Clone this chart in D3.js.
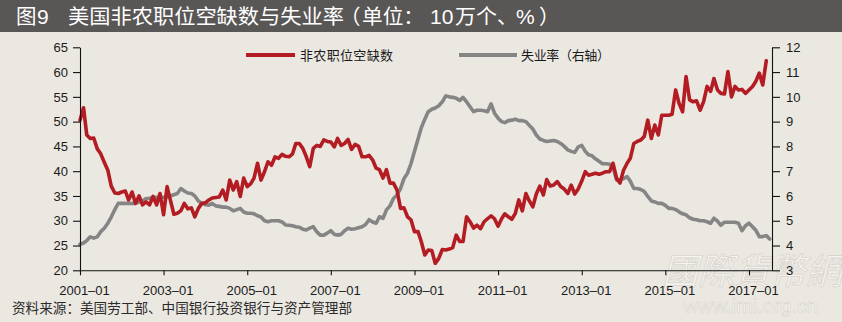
<!DOCTYPE html>
<html><head><meta charset="utf-8">
<script src="https://cdn.jsdelivr.net/npm/d3@7"></script>
<style>
html,body{margin:0;padding:0;background:#EBE8E2;}
svg{display:block;}
</style></head>
<body><svg id="c" width="842" height="322"></svg>
<script>
// ---- data (monthly, starting 2001-01) ----
const startMonth = "2001-01";
const xTickLabels = ["2001–01","2003–01","2005–01","2007–01","2009–01","2011–01","2013–01","2015–01","2017–01"];
const leftTicks = [20,25,30,35,40,45,50,55,60,65];
const rightTicks = [3,4,5,6,7,8,9,10,11,12];
const seriesNames = ["非农职位空缺数","失业率（右轴）"];
// job openings, 100k
const openings = [
50.3,52.8,47.3,46.6,46.7,44.5,43.5,41.8,40.2,37.0,35.6,35.5,
35.8,36.0,34.2,35.8,33.5,35.0,33.2,33.8,33.2,34.9,33.2,35.5,
31.2,36.9,34.2,31.3,31.5,32.0,33.5,32.4,32.6,30.8,32.5,33.5,
33.6,34.2,34.6,34.7,34.8,36.2,34.2,38.2,36.2,37.9,34.9,38.6,
36.9,37.5,38.6,41.6,38.2,39.9,41.9,41.2,42.9,42.6,43.4,43.0,
42.9,43.5,45.6,45.6,44.6,42.9,40.9,44.6,45.2,45.0,46.3,46.0,
45.9,44.9,46.6,45.2,45.6,46.4,44.4,45.4,45.0,42.9,42.9,43.2,
42.3,40.6,40.3,38.6,40.3,37.6,37.6,36.2,32.5,32.6,30.8,30.2,
27.8,27.8,25.8,23.1,24.1,24.0,21.4,22.4,24.2,24.1,24.3,24.6,
27.1,25.8,25.8,30.8,29.8,28.5,29.1,28.4,29.8,30.4,31.0,30.4,
28.9,30.4,31.4,30.8,30.3,31.5,34.2,32.0,35.5,34.0,32.8,35.4,
37.0,35.2,38.3,37.0,37.2,37.9,36.9,36.4,35.5,37.2,35.4,36.4,
38.0,39.9,39.2,39.4,39.6,39.4,39.6,39.9,39.9,41.6,38.6,37.6,
40.2,41.6,42.6,45.6,46.0,46.3,47.0,50.3,46.6,49.3,47.3,51.3,
51.3,51.3,51.5,56.4,53.7,52.0,59.1,54.4,54.0,54.2,52.3,54.0,
57.1,56.1,58.7,56.4,55.7,55.6,60.1,55.0,57.1,56.4,56.5,55.7,
56.4,57.1,58.1,59.8,57.4,62.3];
// unemployment rate, %
const unemployment = [
4.05,4.1,4.2,4.35,4.3,4.35,4.56,4.7,4.9,5.15,5.45,5.7,
5.7,5.7,5.7,5.7,5.7,5.75,5.8,5.9,5.9,5.95,5.95,5.95,
5.95,5.96,6.0,6.05,6.1,6.3,6.2,6.12,6.1,6.0,5.8,5.7,
5.65,5.63,5.7,5.6,5.58,5.55,5.55,5.5,5.4,5.45,5.5,5.35,
5.3,5.3,5.28,5.2,5.15,5.0,4.96,5.0,5.0,5.0,4.95,4.83,
4.82,4.8,4.76,4.74,4.66,4.63,4.7,4.76,4.55,4.42,4.42,4.5,
4.6,4.45,4.42,4.45,4.6,4.7,4.66,4.68,4.72,4.76,4.85,5.04,
4.95,4.9,5.16,5.1,5.44,5.6,5.9,6.04,6.3,6.7,6.92,7.3,
7.8,8.3,8.75,9.1,9.4,9.5,9.55,9.64,9.8,10.04,10.0,9.98,
9.94,9.86,9.98,9.8,9.6,9.4,9.46,9.46,9.44,9.4,9.72,9.34,
9.14,9.0,8.96,9.04,9.06,9.1,9.04,9.04,9.0,8.85,8.7,8.46,
8.3,8.24,8.2,8.22,8.24,8.2,8.12,8.0,7.86,7.8,7.76,7.98,
8.04,7.8,7.66,7.62,7.5,7.4,7.3,7.3,7.28,7.18,6.64,6.64,
6.7,6.78,6.6,6.3,6.3,6.26,6.18,5.98,5.8,5.76,5.7,5.7,
5.62,5.5,5.5,5.45,5.36,5.28,5.24,5.12,5.06,5.04,5.0,5.0,
4.96,4.9,5.1,4.98,4.82,4.94,4.94,4.94,4.94,4.9,4.6,4.8,
4.9,4.76,4.62,4.36,4.36,4.4,4.26];

// ---- drawing ----
const svg = d3.select("#c");
const W = 842, H = 322;
const parse = d3.timeParse("%Y-%m");
const t0 = parse(startMonth);
const dateOf = i => d3.timeMonth.offset(t0, i);

const x = d3.scaleTime().domain([t0, new Date(2017, 6, 21)]).range([80, 772]);
const yL = d3.scaleLinear().domain([20, 65]).range([270.3, 47.3]);
const yR = d3.scaleLinear().domain([3, 12]).range([270.3, 47.3]);

const cjk = "'Noto Sans CJK SC','Noto Sans',sans-serif";
const axisFont = "'Liberation Sans',Arial,Helvetica,sans-serif";

// title bar
svg.append("rect").attr("x",0).attr("y",0).attr("width",W).attr("height",32).attr("fill","#595656");
const title = svg.append("text").attr("y",24)
  .attr("font-family",cjk).attr("font-size",20.5).attr("fill","#ffffff");
[
  {t:"图", x:16},
  {t:"9", x:37, f:axisFont, s:21},
  {t:"美国非农职位空缺数与失业率", x:68, len:276},
  {t:"（", x:340},
  {t:"单位：", x:362, len:62},
  {t:"10", x:430, f:axisFont, s:21},
  {t:"万个", x:455, len:42},
  {t:"、", x:497},
  {t:"%", x:516, f:axisFont, s:21},
  {t:"）", x:539}
].forEach(p=>{
  const ts = title.append("tspan").attr("x",p.x).text(p.t);
  if (p.f) ts.attr("font-family",p.f).attr("font-size",p.s);
  if (p.len) ts.attr("textLength",p.len).attr("lengthAdjust","spacingAndGlyphs");
});

// watermark
svg.append("text").attr("x",752).attr("y",284).attr("text-anchor","middle")
  .attr("font-family","'Noto Sans CJK TC',sans-serif").attr("font-size",36).attr("font-style","italic")
  .attr("fill","#f6f4f0").attr("stroke","#d9d5ce").attr("stroke-width",0.8)
  .text("國際貨幣網");
svg.append("text").attr("x",751).attr("y",313).attr("text-anchor","middle")
  .attr("font-family",axisFont).attr("font-size",20)
  .attr("fill","#f7f5f1").attr("stroke","#d6d2cb").attr("stroke-width",0.6)
  .text("www.imi.org.cn");

// lines
const lineU = d3.line().x((d,i)=>x(dateOf(i))).y(d=>yR(d));
const lineO = d3.line().x((d,i)=>x(dateOf(i))).y(d=>yL(d));
svg.append("path").datum(unemployment).attr("d",lineU).attr("fill","none")
  .attr("stroke","#858585").attr("stroke-width",3.6).attr("stroke-linejoin","round").attr("stroke-linecap","round");
svg.append("path").datum(openings).attr("d",lineO).attr("fill","none")
  .attr("stroke","#B41C23").attr("stroke-width",3.6).attr("stroke-linejoin","round").attr("stroke-linecap","round");

// axes
const gL = svg.append("g").attr("transform","translate(80,0)")
  .call(d3.axisLeft(yL).tickValues(leftTicks).tickSize(7).tickPadding(5).tickSizeOuter(0));
const gR = svg.append("g").attr("transform","translate(772,0)")
  .call(d3.axisRight(yR).tickValues(rightTicks).tickSize(8).tickPadding(6).tickSizeOuter(0));
const xTickDates = xTickLabels.map(s => parse(s.replace("–","-")));
const gX = svg.append("g").attr("transform","translate(0,270.3)")
  .call(d3.axisBottom(x).tickValues(xTickDates).tickFormat((d,i)=>xTickLabels[i]).tickSize(5).tickPadding(10).tickSizeOuter(0));
[gL,gR,gX].forEach(g=>{
  g.selectAll("path.domain").attr("stroke","#111").attr("stroke-width",1.1);
  g.selectAll(".tick line").attr("stroke","#111").attr("stroke-width",1.1);
  g.selectAll("text").attr("font-family",axisFont).attr("font-size",13).attr("fill","#1a1a1a");
});
gX.select("path.domain").attr("d","M80,0.5H772");
gX.selectAll(".tick text").attr("dx",4);

// legend
const legend = [
  {name: seriesNames[0], color:"#B41C23", x1:246, x2:295, tx:300, len:93},
  {name: seriesNames[1], color:"#858585", x1:459, x2:517, tx:521, len:89}
];
legend.forEach(l=>{
  svg.append("line").attr("x1",l.x1).attr("x2",l.x2).attr("y1",55).attr("y2",55)
    .attr("stroke",l.color).attr("stroke-width",4);
  svg.append("text").attr("x",l.tx).attr("y",60)
    .attr("font-family",cjk).attr("font-size",13).attr("fill","#1a1a1a")
    .attr("textLength",l.len).attr("lengthAdjust","spacing")
    .text(l.name);
});

// source
svg.append("text").attr("x",12).attr("y",313)
  .attr("font-family",cjk).attr("font-size",13.3).attr("fill","#2a2a2a")
  .attr("textLength",340).attr("lengthAdjust","spacingAndGlyphs")
  .text("资料来源：美国劳工部、中国银行投资银行与资产管理部");
</script>
</body></html>
